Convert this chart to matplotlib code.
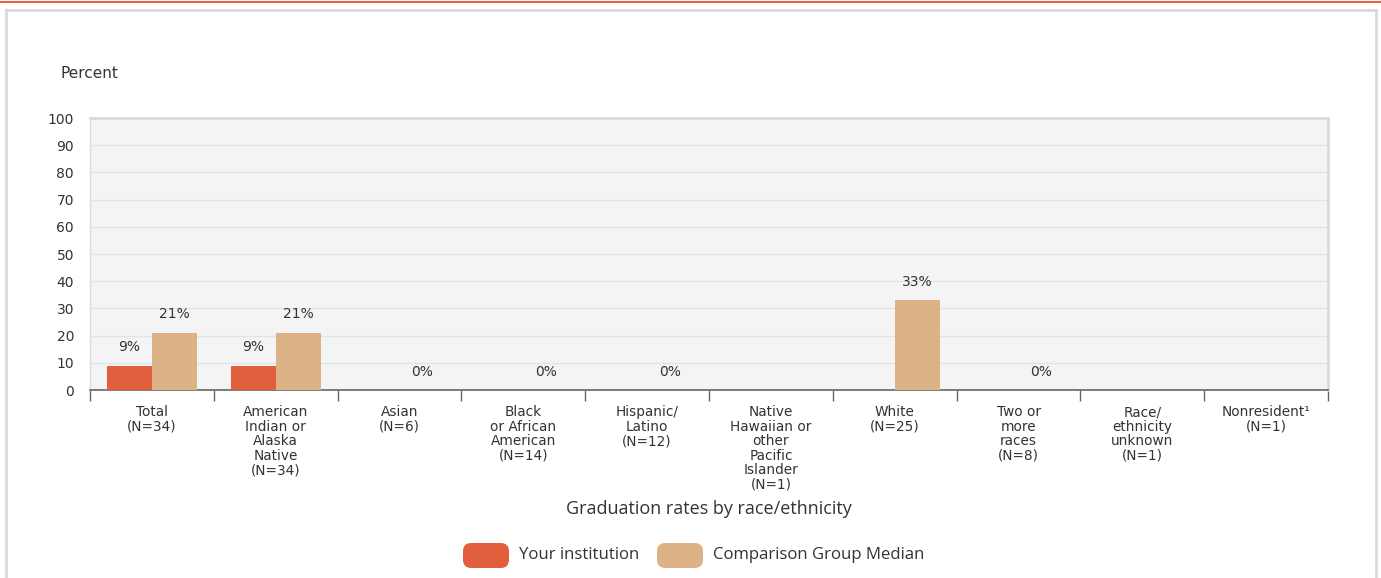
import matplotlib
matplotlib.use("Agg")
import matplotlib.pyplot as plt
from matplotlib.patches import FancyBboxPatch
from matplotlib.lines import Line2D
import numpy as np

categories = [
    "Total\n(N=34)",
    "American\nIndian or\nAlaska\nNative\n(N=34)",
    "Asian\n(N=6)",
    "Black\nor African\nAmerican\n(N=14)",
    "Hispanic/\nLatino\n(N=12)",
    "Native\nHawaiian or\nother\nPacific\nIslander\n(N=1)",
    "White\n(N=25)",
    "Two or\nmore\nraces\n(N=8)",
    "Race/\nethnicity\nunknown\n(N=1)",
    "Nonresident\u00b9\n(N=1)",
]
your_institution = [9, 9, None, None, None, None, None, None, None, None]
comparison_median = [21, 21, 0, 0, 0, None, 33, 0, None, None]
y_ticks = [0, 10, 20, 30, 40, 50, 60, 70, 80, 90, 100]

C_YOUR = "#e15f3c"
C_COMP = "#dcb286"
TXT = "#333333"
FONT = "DejaVu Sans"

W, H = 1381, 578
fig = plt.figure(figsize=(W / 100, H / 100), dpi=100)
fig.patch.set_facecolor("white")

# decorative frame
fig.add_artist(Line2D([0, 1], [1 - 2 / H, 1 - 2 / H], color="#e0633f", lw=1.5))
fig.add_artist(Line2D([6 / W, 6 / W], [0, 1 - 10 / H], color="#d9d9d9", lw=2))
fig.add_artist(Line2D([6 / W, 1376 / W], [1 - 10 / H, 1 - 10 / H], color="#d9d9d9", lw=2))
fig.add_artist(Line2D([1376 / W, 1376 / W], [0, 1 - 10 / H], color="#d9d9d9", lw=2))

L, R, T, B = 90, 1328, 118, 390
ax = fig.add_axes([L / W, 1 - B / H, (R - L) / W, (B - T) / H])
ax.set_facecolor("#f4f4f4")

x = np.arange(len(categories))
bw = 0.365
yv = [np.nan if v is None else v for v in your_institution]
cv = [np.nan if v is None else v for v in comparison_median]
ax.bar(x, yv, width=-bw, align="edge", color=C_YOUR, zorder=3)
ax.bar(x, cv, width=bw, align="edge", color=C_COMP, zorder=3)

for vals, sign in [(your_institution, -1), (comparison_median, 1)]:
    for i, v in enumerate(vals):
        if v is not None:
            ax.annotate(f"{v}%", (x[i] + sign * bw / 2, v), xytext=(0, 13.3),
                        textcoords="offset points", ha="center", va="center",
                        fontsize=10, color=TXT, family=FONT)

ax.set_xlim(-0.5, len(categories) - 0.5)
ax.set_ylim(0, 100)
ax.set_yticks(y_ticks)
ax.set_yticklabels([str(t) for t in y_ticks], fontsize=10, color=TXT, family=FONT)
ax.tick_params(axis="y", length=0, pad=11.5)
ax.yaxis.grid(True, color="#dbe5f1", lw=1, zorder=0)
ax.set_axisbelow(True)

ax.set_xticks(x)
ax.set_xticklabels(categories, fontsize=9.8, color=TXT, family=FONT, linespacing=1.04)
ax.tick_params(axis="x", which="major", length=0, pad=11)
ax.set_xticks(np.arange(len(categories) + 1) - 0.5, minor=True)
ax.tick_params(axis="x", which="minor", length=8, color="#666666", width=1)

for s in ["top", "right"]:
    ax.spines[s].set_color("#dadada")
    ax.spines[s].set_linewidth(2)
ax.spines["left"].set_color("#d8dde5")
ax.spines["left"].set_linewidth(1)
ax.spines["bottom"].set_color("#666666")
ax.spines["bottom"].set_linewidth(1.2)

fig.text(60 / W, 1 - 73 / H, "Percent", fontsize=11, color=TXT, family=FONT,
         ha="left", va="center")
fig.text(709 / W, 1 - 509 / H, "Graduation rates by race/ethnicity", fontsize=13,
         color=TXT, family="Open Sans", ha="center", va="center")

# legend
for x0, col, label in [(463, C_YOUR, "Your institution"), (657, C_COMP, "Comparison Group Median")]:
    fig.add_artist(FancyBboxPatch((x0 / W, 1 - 568 / H), 46 / W, 25 / H,
                                  boxstyle="round,pad=0,rounding_size=0.006",
                                  transform=fig.transFigure, fc=col, ec="none",
                                  mutation_aspect=W / H))
    fig.text((x0 + 56) / W, 1 - 555 / H, label, fontsize=12.1, color=TXT, family="Open Sans",
             ha="left", va="center")

fig.savefig("out.png", dpi=100)
